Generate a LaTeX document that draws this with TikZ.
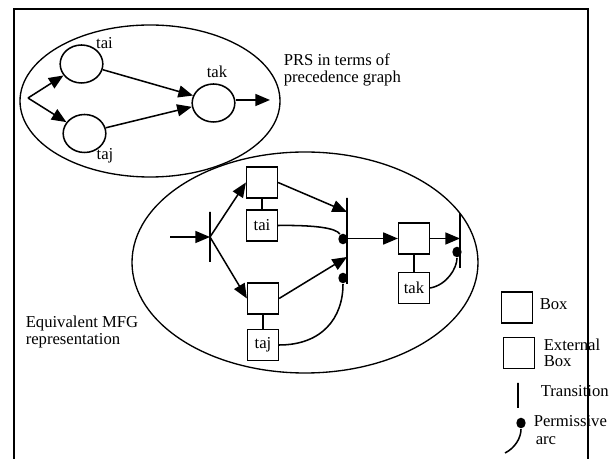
\documentclass[tikz,border=0pt]{standalone}
\usepackage{fontspec}
\setmainfont{Liberation Serif}
\usetikzlibrary{shapes.geometric,arrows.meta,calc}
\begin{document}
\begin{tikzpicture}[x=0.75pt,y=-0.75pt,line width=1.15pt,
  every node/.style={font=\fontsize{12.5}{14}\selectfont},
  arr/.style={-{Triangle[length=11pt,width=9pt]}},
  circ/.style={draw,ellipse,minimum width=32pt,minimum height=28.5pt,inner sep=0pt},
  grp/.style={draw,ellipse,line width=1pt,inner sep=0pt},
  boxn/.style={draw,rectangle,minimum width=23pt,minimum height=23pt,inner sep=0pt},
  trans/.style={draw,rectangle,minimum width=0pt,inner sep=0pt,line width=1.2pt},
  pdot/.style={fill,ellipse,minimum width=7pt,minimum height=8pt,inner sep=0pt},
  lbl/.style={inner sep=0pt,anchor=base west},
  clbl/.style={inner sep=0pt,anchor=base}]
\useasboundingbox (0,0) rectangle (615,459);

% group ellipses
\node[grp,minimum width=195pt,minimum height=114pt] (prs) at (150,101) {};
\node[grp,minimum width=259.5pt,minimum height=165.75pt] (mfg) at (305,262.5) {};

% precedence graph
\node[circ] (ci) at (81.5,64) {};
\node[circ] (cj) at (84.5,133.5) {};
\node[circ] (ck) at (213.5,103) {};
\node[clbl] (lci) at (104.5,49) {tai};
\node[clbl] (lcj) at (105,160) {taj};
\node[clbl] (lck) at (217,78) {tak};
\coordinate (fork) at (28,98);
\coordinate (kout) at (270,100);
\draw[arr] (fork) -- (ci);
\draw[arr] (fork) -- (cj);
\draw[arr] (ci.-15) -- (ck.160);
\draw[arr] (cj.15) -- (ck.190);
\draw[arr] (ck.east |- kout) -- (kout);

\node[lbl] (prs1) at (283,66) {PRS in terms of};
\node[lbl] (prs2) at (283,83) {precedence graph};

% MFG representation
\node[boxn] (b1) at (262,182.5) {};
\node[boxn] (e1) at (262,225.5) {tai};
\node[boxn] (b2) at (263,298.5) {};
\node[boxn] (e2) at (263,345) {taj};
\node[boxn] (bk) at (414,238.5) {};
\node[boxn] (ek) at (414,288) {tak};
\node[trans,minimum height=37.5pt] (t1) at (210,237) {};
\node[trans,minimum height=64.5pt] (t2) at (347,241) {};
\node[trans,minimum height=41pt] (t3) at (460,240.5) {};
\coordinate (in) at (170,237);

\draw[arr] (in) -- (t1.center);
\draw[arr] (t1.center) -- (b1.west);
\draw[arr] (t1.center) -- (b2.west);
\draw[arr] (b1.east) -- ($(t2.center)+(0,-29)$);
\draw[arr] (b2.east) -- ($(t2.center)+(0,16)$);
\draw[arr] (t2.center |- bk.west) -- (bk.west);
\draw[arr] (bk.east) -- (t3.center |- bk.east);
\draw (b1.south) -- (e1.north);
\draw (b2.south) -- (e2.north);
\draw (bk.south) -- (ek.north);

\node[pdot] (p1) at (343,239) {};
\node[pdot] (p2) at (343,278) {};
\node[pdot] (p3) at (457,252) {};
\draw (e1.east) .. controls (315,225) and (336,228) .. (p1);
\draw (e2.east) .. controls (322,345) and (343,318) .. (p2);
\draw (ek.east) .. controls (447,285) and (457,268) .. (p3);

\node[lbl] (mfg1) at (25,328) {Equivalent MFG};
\node[lbl] (mfg2) at (25,345) {representation};

% legend
\node[boxn] (lb) at (517,307.5) {};
\node[lbl] (lbt) at (539,310) {Box};
\node[boxn] (le) at (519,353) {};
\node[lbl] (let1) at (543,351) {External};
\node[lbl] (let2) at (543,367) {Box};
\node[trans,minimum height=18.75pt] (lt) at (518,395.5) {};
\node[lbl] (ltt) at (540,397) {Transition};
\node[pdot] (lp) at (521,423) {};
\coordinate (la) at (505,453);
\draw (la) .. controls (515,448) and (521,438) .. (lp);
\node[lbl] (lpt1) at (533,427) {Permissive};
\node[lbl] (lpt2) at (535,445) {arc};

% frame
\draw[line width=1.4pt] (14,459) -- (14,9) -- (588,9) -- (588,459);
\end{tikzpicture}
\end{document}
